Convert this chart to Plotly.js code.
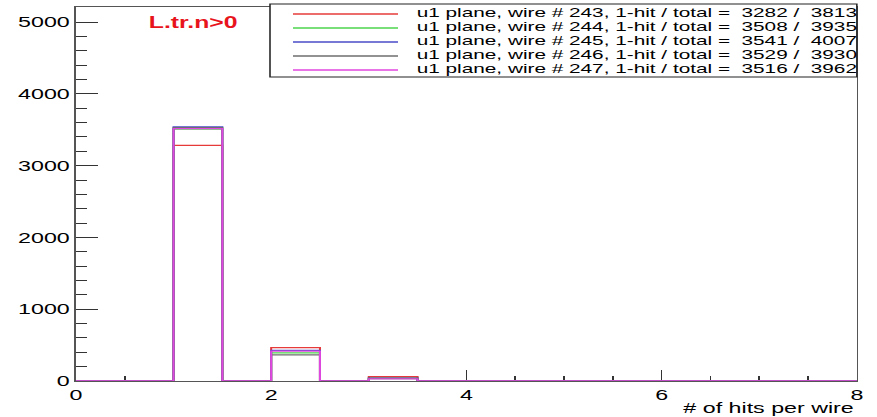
<!DOCTYPE html>
<html><head><meta charset="utf-8">
<script src="https://cdn.plot.ly/plotly-3.0.1.min.js"></script>
<style>
html,body{margin:0;padding:0;background:#fff;overflow:hidden}
#wrap{width:877px;height:417px;overflow:hidden}
#chart{width:566px;height:417px;transform:scaleX(1.549470);transform-origin:0 0}
</style></head><body><div id="wrap"><div id="chart"></div></div>
<script>
// ---- data ----
const binEdges = [0,0.5,1,1.5,2,2.5,3,3.5,4,4.5,5,5.5,6,6.5,7,7.5,8];
const wires  = [243, 244, 245, 246, 247];
const oneHit = [3282, 3508, 3541, 3529, 3516];
const totals = [3813, 3935, 4007, 3930, 3962];
const hits243 = [0,0,3282,0,465,0,62,0,0,0,0,0,0,0,0,0];
const hits244 = [0,0,3508,0,392,0,35,0,0,0,0,0,0,0,0,0];
const hits245 = [0,0,3541,0,426,0,40,0,0,0,0,0,0,0,0,0];
const hits246 = [0,0,3529,0,363,0,38,0,0,0,0,0,0,0,0,0];
const hits247 = [0,0,3516,0,416,0,30,0,0,0,0,0,0,0,0,0];
const yTickVals = [0,1000,2000,3000,4000,5000];
const xTickVals = [0,2,4,6,8];
const cutLabel = 'L.tr.n>0';
const xTitle = '# of hits per wire';

// ---- styling / geometry ----
const colors = ['#e63a3a', '#4cd44c', '#4a4ac8', '#6e6e6e', '#e046e0'];
const series = [hits243, hits244, hits245, hits246, hits247];
const W = 566, H = 417, S = 877 / W;
const L = 49, R = 13, T = 7, B = 36;
const pw = W - L - R, ph = H - T - B;
const fx = xo => (xo / S - L) / pw;      // outer pixel x -> paper
const fy = yo => (H - B - yo) / ph;      // outer pixel y -> paper
const FONT = 'Liberation Sans, Arial, Helvetica, sans-serif';

const traces = series.map((h, i) => ({
  type: 'scatter', mode: 'lines',
  x: binEdges, y: h.concat([h[h.length - 1]]),
  line: {shape: 'hv', color: colors[i], width: 1.3},
  hoverinfo: 'skip', showlegend: false
}));

const shapes = [{
  type: 'rect', xref: 'paper', yref: 'paper',
  x0: fx(270), x1: 1, y0: fy(77), y1: fy(4),
  line: {color: '#222', width: 1}, fillcolor: '#fff', layer: 'above'
}];
const annotations = [];
wires.forEach((w, i) => {
  const ly = 14 + 14 * i;
  shapes.push({type: 'line', xref: 'paper', yref: 'paper',
    x0: fx(293), x1: fx(398), y0: fy(ly), y1: fy(ly),
    line: {color: colors[i], width: 1.3}, layer: 'above'});
  annotations.push({xref: 'paper', yref: 'paper', x: fx(413), y: fy(ly - 1.5),
    xanchor: 'left', yanchor: 'middle', showarrow: false,
    text: 'u1 plane, wire # ' + w + ', 1-hit / total =\u00a0 ' + oneHit[i] + ' /\u00a0 ' + totals[i],
    font: {family: FONT, size: 13.4, color: '#000'}});
});
annotations.push({xref: 'paper', yref: 'paper', x: fx(192.5), y: fy(23),
  xanchor: 'center', yanchor: 'middle', showarrow: false,
  text: '<b>' + cutLabel.replace('>', '&gt;') + '</b>',
  font: {family: FONT, size: 16, color: '#e8141c'}});
annotations.push({xref: 'paper', yref: 'paper', x: 1, y: 0,
  xanchor: 'right', yanchor: 'top', yshift: -16, showarrow: false,
  text: xTitle, font: {family: FONT, size: 15, color: '#000'}});

const layout = {
  width: W, height: H,
  margin: {l: L, r: R, t: T, b: B, pad: 0},
  paper_bgcolor: '#fff', plot_bgcolor: '#fff',
  showlegend: false,
  xaxis: {
    range: [0, 8], tickvals: xTickVals, ticktext: xTickVals.map(String),
    ticks: 'inside', ticklen: 11, tickcolor: '#333', tickwidth: 1,
    minor: {dtick: 0.5, ticks: 'inside', ticklen: 5, tickcolor: '#333', showgrid: false},
    showline: true, linecolor: '#555', linewidth: 1, mirror: true,
    showgrid: false, zeroline: false, layer: 'below traces',
    tickfont: {family: FONT, size: 15, color: '#000'}, fixedrange: true
  },
  yaxis: {
    range: [0, 5210], tickvals: yTickVals, ticktext: yTickVals.map(String),
    ticks: 'inside', ticklen: 14, tickcolor: '#333', tickwidth: 1,
    minor: {dtick: 200, ticks: 'inside', ticklen: 7, tickcolor: '#333', showgrid: false},
    showline: true, linecolor: '#555', linewidth: 1, mirror: true,
    showgrid: false, zeroline: false, layer: 'below traces',
    tickfont: {family: FONT, size: 15, color: '#000'}, fixedrange: true
  },
  shapes: shapes, annotations: annotations
};
Plotly.newPlot('chart', traces, layout, {displayModeBar: false, staticPlot: true});
</script></body></html>
